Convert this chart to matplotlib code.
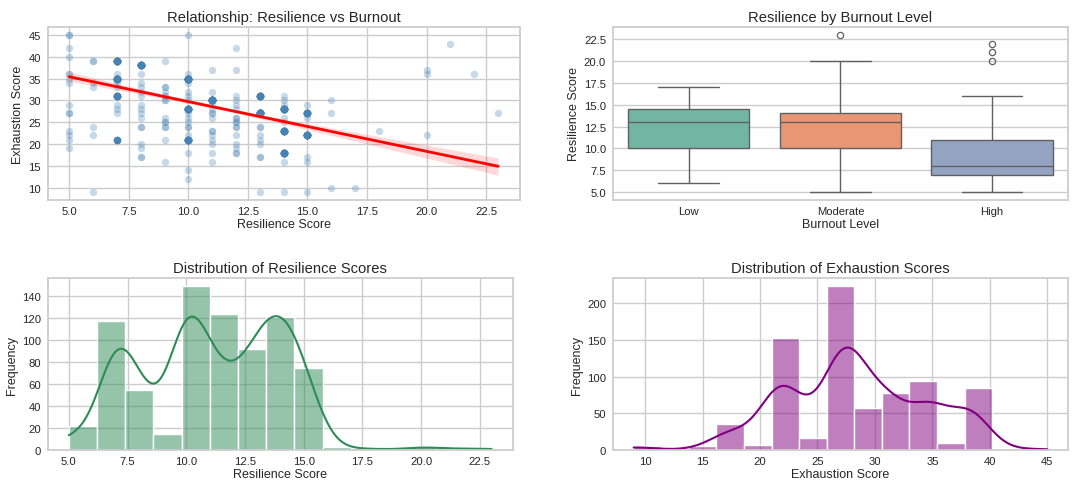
import numpy as np
import matplotlib
matplotlib.use("Agg")
import matplotlib.pyplot as plt
from matplotlib.ticker import MultipleLocator
import seaborn as sns

# scatter: distinct (resilience, exhaustion) points and how many rows sit on each
sc_res = [5] * 12 + [6] * 6 + [7] * 10 + [8] * 14 + [9] * 10 + [10] * 17 + [11] * 13 \
    + [12] * 13 + [13] * 8 + [14] * 10 + [15] * 7 + [16] * 3 + [17, 18, 20, 20, 20, 21, 22, 23]
sc_exh = [45, 42, 40, 36, 35, 34, 29, 27, 23, 22, 21, 19,
          39, 34, 33, 24, 22, 9,
          39, 36, 35, 34, 33, 31, 29, 28, 27, 21,
          38, 36, 34, 33, 32, 31, 29, 28, 27, 26, 24, 20, 19, 17,
          39, 33, 32, 31, 30, 26, 25, 24, 21, 16,
          45, 36, 35, 34, 32, 31, 30, 28, 27, 26, 25, 24, 22, 21, 18, 14, 12,
          37, 32, 30, 29, 28, 27, 26, 23, 22, 21, 20, 18, 16,
          42, 37, 31, 30, 29, 28, 26, 25, 24, 22, 20, 19, 18,
          31, 27, 24, 22, 21, 20, 17, 9,
          31, 30, 29, 28, 26, 25, 23, 18, 16, 9,
          29, 27, 26, 22, 17, 16, 9,
          30, 27, 10,
          10, 23, 37, 36, 22, 43, 36, 27]
sc_n = [2, 1, 1, 2, 1, 1, 1, 2, 1, 1, 1, 1,
        2, 1, 1, 1, 1, 1,
        41, 1, 50, 1, 1, 25, 1, 1, 1, 10,
        45, 1, 1, 1, 1, 1, 1, 1, 1, 1, 2, 1, 1, 2,
        1, 2, 1, 2, 2, 1, 2, 2, 1, 1,
        1, 1, 55, 1, 1, 1, 1, 45, 1, 1, 1, 2, 1, 40, 1, 1, 1,
        1, 1, 60, 1, 1, 2, 1, 2, 1, 1, 1, 1, 1,
        1, 1, 1, 1, 1, 1, 2, 2, 2, 1, 1, 1, 2,
        30, 55, 2, 1, 1, 1, 2, 1,
        1, 1, 1, 45, 1, 1, 40, 35, 1, 1,
        1, 30, 1, 45, 1, 1, 1,
        1, 1, 1,
        1, 1, 1, 1, 1, 1, 1, 1]

# boxplot summary per burnout level
levels = ['Low', 'Moderate', 'High']
box_med = [13, 13, 8]
box_q1 = [10, 10, 7]
box_q3 = [14.5, 14, 11]
box_lo = [6, 5, 5]
box_hi = [17, 20, 16]
box_fliers = [[], [23], [20, 21, 22]]

# histogram data: counts per integer score
res_values = [5, 6, 7, 8, 9, 10, 11, 12, 13, 14, 15, 16, 17, 18, 20, 21, 22, 23]
res_counts = [14, 8, 117, 55, 15, 149, 74, 50, 92, 121, 75, 3, 1, 1, 3, 1, 1, 1]
exh_values = [9, 10, 14, 15, 16, 17, 18, 19, 20, 21, 22, 23, 24, 25, 26, 27, 28,
              29, 30, 31, 32, 33, 34, 35, 36, 37, 38, 39, 40, 42, 43, 45]
exh_counts = [4, 2, 1, 1, 3, 18, 17, 3, 4, 55, 57, 40, 10, 7, 48, 85, 90,
              30, 27, 55, 22, 12, 22, 60, 10, 0, 55, 27, 2, 1, 1, 1]

sns.set_theme(style="whitegrid")
plt.rcParams['font.family'] = ['Liberation Sans', 'DejaVu Sans']

fig = plt.figure(figsize=(10.83, 4.85), dpi=100)
ax1 = fig.add_axes([0.0441, 0.5856, 0.4356, 0.3567])
ax2 = fig.add_axes([0.566, 0.5856, 0.4201, 0.3567])
ax3 = fig.add_axes([0.0441, 0.0701, 0.4294, 0.3546])
ax4 = fig.add_axes([0.566, 0.0701, 0.4201, 0.3546])

title_fs = 10.6
label_fs = 9.0
tick_fs = 8.1

# 1. scatter with regression
rx = np.repeat(sc_res, sc_n)
ry = np.repeat(sc_exh, sc_n)
sns.regplot(x=rx, y=ry, ax=ax1, color='steelblue', seed=0,
            scatter_kws={'alpha': 0.3, 's': 28, 'linewidths': 0},
            line_kws={'color': 'red', 'lw': 2})
ax1.yaxis.set_major_locator(MultipleLocator(5))
ax1.set_title('Relationship: Resilience vs Burnout', fontsize=title_fs, pad=4)
ax1.set_xlabel('Resilience Score', fontsize=label_fs)
ax1.set_ylabel('Exhaustion Score', fontsize=label_fs)

# 2. boxplot
pal = [sns.desaturate(c, 0.75) for c in sns.color_palette('Set2', 3)]
stats = []
for i in range(3):
    stats.append(dict(med=box_med[i], q1=box_q1[i], q3=box_q3[i],
                      whislo=box_lo[i], whishi=box_hi[i],
                      fliers=box_fliers[i], label=levels[i]))
line_c = '#606060'
bp = ax2.bxp(stats, positions=[0, 1, 2], widths=0.8, capwidths=0.4,
             patch_artist=True,
             boxprops=dict(edgecolor=line_c, linewidth=1.0),
             medianprops=dict(color=line_c, linewidth=1.0),
             whiskerprops=dict(color=line_c, linewidth=1.0),
             capprops=dict(color=line_c, linewidth=1.0),
             flierprops=dict(marker='o', markerfacecolor='none',
                             markeredgecolor=line_c, markersize=4.5,
                             markeredgewidth=0.9))
for patch, c in zip(bp['boxes'], pal):
    patch.set_facecolor(c)
ax2.set_xlim(-0.5, 2.5)
ax2.xaxis.grid(False)
ax2.yaxis.set_major_locator(MultipleLocator(2.5))
ax2.set_title('Resilience by Burnout Level', fontsize=title_fs, pad=4)
ax2.set_xlabel('Burnout Level', fontsize=label_fs)
ax2.set_ylabel('Resilience Score', fontsize=label_fs)

# 3. resilience histogram
sns.histplot(np.repeat(res_values, res_counts), bins=15, kde=True,
             color='seagreen', ax=ax3)
ax3.yaxis.set_major_locator(MultipleLocator(20))
ax3.set_title('Distribution of Resilience Scores', fontsize=title_fs, pad=4)
ax3.set_xlabel('Resilience Score', fontsize=label_fs)
ax3.set_ylabel('Frequency', fontsize=label_fs)

# 4. exhaustion histogram
sns.histplot(np.repeat(exh_values, exh_counts), bins=15, kde=True,
             color='purple', ax=ax4)
ax4.yaxis.set_major_locator(MultipleLocator(50))
ax4.set_title('Distribution of Exhaustion Scores', fontsize=title_fs, pad=4)
ax4.set_xlabel('Exhaustion Score', fontsize=label_fs)
ax4.set_ylabel('Frequency', fontsize=label_fs)

for ax in (ax1, ax2, ax3, ax4):
    ax.tick_params(labelsize=tick_fs, length=0)
    ax.tick_params(axis='x', pad=4)
    ax.tick_params(axis='y', pad=5)
    ax.xaxis.labelpad = 2
    ax.yaxis.labelpad = 3

fig.savefig('out.png', dpi=100)
